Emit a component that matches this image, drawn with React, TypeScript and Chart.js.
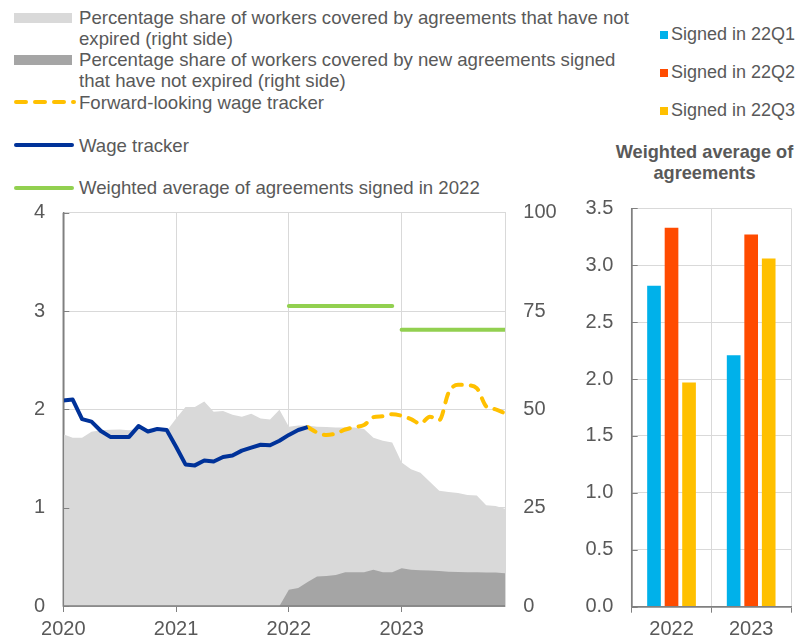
import { useEffect, useRef } from 'react';
import { Chart, registerables } from 'chart.js';

Chart.register(...registerables);

const N = null;

// ---------- Left chart data (monthly, Jan 2020 = month 0) ----------
const xTickMonths = [0, 12, 24, 36];
const xTickLabels = ['2020', '2021', '2022', '2023'];

const wageTracker = [
  2.09, 2.10, 1.90, 1.875, 1.78, 1.72, 1.72, 1.72, 1.83, 1.775, 1.80, 1.79,
  1.62, 1.44, 1.43, 1.48, 1.47, 1.515, 1.53, 1.58, 1.61, 1.64, 1.635, 1.68,
  1.74, 1.79, 1.82, N, N, N, N, N, N, N, N, N,
  N, N, N, N, N, N, N, N, N, N, N, N,
];

const forwardTracker = [
  N, N, N, N, N, N, N, N, N, N, N, N,
  N, N, N, N, N, N, N, N, N, N, N, N,
  N, N, 1.82, 1.765, 1.74, 1.755, 1.795, 1.82, 1.84, 1.92, 1.93, 1.95,
  1.935, 1.90, 1.855, 1.925, 1.89, 2.17, 2.25, 2.245, 2.215, 2.03, 2.0, 1.96,
];

const weightedAvg2022 = [
  N, N, N, N, N, N, N, N, N, N, N, N,
  N, N, N, N, N, N, N, N, N, N, N, N,
  3.05, 3.05, 3.05, 3.05, 3.05, 3.05, 3.05, 3.05, 3.05, 3.05, 3.05, 3.05,
  N, N, N, N, N, N, N, N, N, N, N, N,
];

const weightedAvg2023 = [
  N, N, N, N, N, N, N, N, N, N, N, N,
  N, N, N, N, N, N, N, N, N, N, N, N,
  N, N, N, N, N, N, N, N, N, N, N, N,
  2.81, 2.81, 2.81, 2.81, 2.81, 2.81, 2.81, 2.81, 2.81, 2.81, 2.81, 2.81,
];

const shareNotExpired = [
  43.7, 42.8, 42.8, 44.3, 44.7, 44.8, 44.9, 44.7, 45.2, 44.2, 44.3, 44.5,
  47.7, 50.6, 50.6, 52.0, 49.4, 49.6, 48.6, 48.1, 48.9, 47.7, 47.4, 49.9,
  45.6, 45.9, 45.9, 45.6, 45.5, 45.4, 45.4, 45.4, 45.0, 42.8, 42.0, 41.6,
  36.5, 34.8, 33.9, 31.6, 29.3, 29.0, 28.7, 28.2, 28.1, 25.6, 25.4, 24.7,
];

const shareNewNotExpired = [
  0, 0, 0, 0, 0, 0, 0, 0, 0, 0, 0, 0,
  0, 0, 0, 0, 0, 0, 0, 0, 0, 0, 0, 0,
  4.1, 4.6, 6.1, 7.5, 7.6, 7.9, 8.6, 8.6, 8.6, 9.2, 8.6, 8.6,
  9.6, 9.2, 9.1, 9.0, 8.9, 8.7, 8.65, 8.55, 8.55, 8.5, 8.5, 8.3,
];

const leftLegendLabels = [
  'Percentage share of workers covered by agreements that have not\nexpired (right side)',
  'Percentage share of workers covered by new agreements signed\nthat have not expired (right side)',
  'Forward-looking wage tracker',
  'Wage tracker',
  'Weighted average of agreements signed in 2022',
];

// ---------- Right chart data ----------
const barCategories = ['2022', '2023'];
const signed22Q1 = [2.82, 2.21];
const signed22Q2 = [3.33, 3.27];
const signed22Q3 = [1.97, 3.06];
const barSeriesLabels = ['Signed in 22Q1', 'Signed in 22Q2', 'Signed in 22Q3'];
const barTitle = 'Weighted average of\nagreements';

// ---------- styles ----------
const FONT = 'Arial, "Liberation Sans", sans-serif';
const TEXT = '#595959';
const GRID = '#d9d9d9';
const AXIS = '#808080';
const C_LIGHT = '#d9d9d9';
const C_DARK = '#a5a5a5';
const C_BLUE = '#003299';
const C_YELLOW = '#FFC000';
const C_GREEN = '#92D050';
const C_Q1 = '#00B1EA';
const C_Q2 = '#FF4B00';
const C_Q3 = '#FFC000';

const toXY = (arr: (number | null)[]) => arr.map((v, i) => ({ x: i, y: v }));

const fixWidth = (w: number) => (s: any) => {
  s.width = w;
  s.paddingTop = 0;
  s.paddingBottom = 0;
};

const axisOverlay = {
  id: 'axisOverlay',
  afterDatasetsDraw(chart: any) {
    const { ctx, chartArea: a, scales } = chart;
    const y = scales.y;
    ctx.save();
    ctx.strokeStyle = AXIS;
    ctx.lineWidth = 1.5;
    ctx.beginPath();
    ctx.moveTo(a.left, a.top);
    ctx.lineTo(a.left, a.bottom);
    ctx.lineTo(a.right, a.bottom);
    ctx.stroke();
    ctx.lineWidth = 1;
    y.ticks.forEach((t: any) => {
      const py = Math.round(y.getPixelForValue(t.value)) + 0.5;
      ctx.beginPath();
      ctx.moveTo(a.left, py);
      ctx.lineTo(a.left + 6, py);
      ctx.stroke();
    });
    ctx.restore();
  },
};

export default function App() {
  const lineRef = useRef<HTMLCanvasElement>(null);
  const barRef = useRef<HTMLCanvasElement>(null);

  useEffect(() => {
    const tickFont = { family: FONT, size: 20 };

    const lineChart = new Chart(lineRef.current as HTMLCanvasElement, {
      type: 'line',
      data: {
        datasets: [
          {
            label: 'Wage tracker',
            data: toXY(wageTracker),
            borderColor: C_BLUE,
            borderWidth: 4,
            pointRadius: 0,
            borderJoinStyle: 'round',
            yAxisID: 'y',
            order: 0,
          },
          {
            label: 'Forward-looking wage tracker',
            data: toXY(forwardTracker),
            borderColor: C_YELLOW,
            borderWidth: 4,
            borderDash: [9, 9],
            borderCapStyle: 'round',
            cubicInterpolationMode: 'monotone',
            pointRadius: 0,
            yAxisID: 'y',
            order: 1,
          },
          {
            label: 'Weighted average of agreements signed in 2022',
            data: toXY(weightedAvg2022),
            borderColor: C_GREEN,
            borderWidth: 4,
            borderCapStyle: 'round',
            pointRadius: 0,
            yAxisID: 'y',
            order: 2,
          },
          {
            label: 'Weighted average of agreements signed in 2022 (2023)',
            data: toXY(weightedAvg2023),
            borderColor: C_GREEN,
            borderWidth: 4,
            borderCapStyle: 'round',
            pointRadius: 0,
            yAxisID: 'y',
            order: 2,
          },
          {
            label: 'Percentage share of workers covered by new agreements signed that have not expired (right side)',
            data: toXY(shareNewNotExpired),
            borderWidth: 0,
            borderColor: 'rgba(0,0,0,0)',
            backgroundColor: C_DARK,
            fill: 'origin',
            pointRadius: 0,
            yAxisID: 'y1',
            order: 3,
          },
          {
            label: 'Percentage share of workers covered by agreements that have not expired (right side)',
            data: toXY(shareNotExpired),
            borderWidth: 0,
            borderColor: 'rgba(0,0,0,0)',
            backgroundColor: C_LIGHT,
            fill: 'origin',
            pointRadius: 0,
            yAxisID: 'y1',
            order: 4,
          },
        ] as any,
      },
      options: {
        responsive: false,
        animation: false,
        events: [],
        layout: { padding: { top: 17.7, left: 0, right: 0, bottom: 0 } },
        plugins: { legend: { display: false }, tooltip: { enabled: false } },
        scales: {
          x: {
            type: 'linear',
            min: 0,
            max: 47,
            afterBuildTicks: (s: any) => {
              s.ticks = xTickMonths.map((v) => ({ value: v }));
            },
            afterFit: (s: any) => {
              s.height = 33;
            },
            ticks: {
              font: tickFont,
              color: TEXT,
              padding: 5,
              maxRotation: 0,
              autoSkip: false,
              callback: (v: any) => xTickLabels[xTickMonths.indexOf(Number(v))] ?? '',
            },
            grid: { color: GRID, drawTicks: true, tickLength: 6, tickColor: AXIS },
            border: { color: AXIS, width: 1.5 },
          },
          y: {
            position: 'left',
            min: 0,
            max: 4,
            afterFit: fixWidth(63.3),
            ticks: { stepSize: 1, font: tickFont, color: TEXT, padding: 18.3 },
            grid: { color: GRID, drawTicks: false },
            border: { color: AXIS, width: 1.5 },
          },
          y1: {
            position: 'right',
            min: 0,
            max: 100,
            afterFit: fixWidth(55),
            ticks: { stepSize: 25, font: tickFont, color: TEXT, padding: 18.3 },
            grid: { display: false, drawTicks: false },
            border: { color: GRID, width: 1 },
          },
        },
      } as any,
      plugins: [axisOverlay],
    });

    const barChart = new Chart(barRef.current as HTMLCanvasElement, {
      type: 'bar',
      data: {
        labels: barCategories,
        datasets: [
          { label: barSeriesLabels[0], data: signed22Q1, backgroundColor: C_Q1 },
          { label: barSeriesLabels[1], data: signed22Q2, backgroundColor: C_Q2 },
          { label: barSeriesLabels[2], data: signed22Q3, backgroundColor: C_Q3 },
        ],
      },
      options: {
        responsive: false,
        animation: false,
        events: [],
        layout: { padding: { top: 13.3, right: 7, left: 0, bottom: 0 } },
        datasets: { bar: { categoryPercentage: 0.66, barPercentage: 0.78 } },
        plugins: { legend: { display: false }, tooltip: { enabled: false } },
        scales: {
          x: {
            afterFit: (s: any) => {
              s.height = 32.3;
            },
            ticks: { font: tickFont, color: TEXT, padding: 5, maxRotation: 0 },
            grid: { color: GRID, offset: true, drawTicks: true, tickLength: 6, tickColor: AXIS },
            border: { color: AXIS, width: 1.5 },
          },
          y: {
            min: 0,
            max: 3.5,
            afterFit: fixWidth(71.7),
            ticks: {
              stepSize: 0.5,
              font: tickFont,
              color: TEXT,
              padding: 18.4,
              callback: (v: any) => Number(v).toFixed(1),
            },
            grid: { color: GRID, drawTicks: false },
            border: { color: AXIS, width: 1.5 },
          },
        },
      } as any,
      plugins: [axisOverlay],
    });

    return () => {
      lineChart.destroy();
      barChart.destroy();
    };
  }, []);

  const LH = 21;
  const FS = 18.6;
  const leftRowCenters = [17.5, 59.5, 102, 145, 187.5];
  const leftKinds = ['box', 'box', 'dash', 'line', 'line'];
  const leftColors = [C_LIGHT, C_DARK, C_YELLOW, C_BLUE, C_GREEN];
  const rightRowCenters = [34.5, 72.5, 110.5];
  const rightColors = [C_Q1, C_Q2, C_Q3];

  return (
    <div
      style={{
        position: 'absolute',
        left: 0,
        top: 0,
        width: 798,
        height: 639,
        background: '#fff',
        overflow: 'hidden',
        fontFamily: FONT,
        color: TEXT,
      }}
    >
      {leftLegendLabels.map((label, i) => {
        const cy = leftRowCenters[i];
        const kind = leftKinds[i];
        return (
          <div key={'l' + i}>
            {kind === 'box' ? (
              <div
                style={{
                  position: 'absolute',
                  left: 14,
                  top: cy - 5,
                  width: 58,
                  height: 10,
                  background: leftColors[i],
                }}
              />
            ) : (
              <svg
                width={64}
                height={10}
                style={{ position: 'absolute', left: 12, top: cy - 5 }}
              >
                <line
                  x1={4}
                  y1={5}
                  x2={kind === 'dash' ? 62 : 60}
                  y2={5}
                  stroke={leftColors[i]}
                  strokeWidth={4}
                  strokeLinecap="round"
                  strokeDasharray={kind === 'dash' ? '10 9' : undefined}
                />
              </svg>
            )}
            <div
              style={{
                position: 'absolute',
                left: 79,
                top: cy - LH / 2,
                fontSize: FS,
                lineHeight: LH + 'px',
                whiteSpace: 'pre',
              }}
            >
              {label}
            </div>
          </div>
        );
      })}

      {barSeriesLabels.map((label, i) => (
        <div key={'r' + i}>
          <div
            style={{
              position: 'absolute',
              left: 660,
              top: rightRowCenters[i] - 4,
              width: 8,
              height: 8,
              background: rightColors[i],
            }}
          />
          <div
            style={{
              position: 'absolute',
              left: 671,
              top: rightRowCenters[i] - LH / 2,
              fontSize: 18,
              lineHeight: LH + 'px',
              whiteSpace: 'pre',
            }}
          >
            {label}
          </div>
        </div>
      ))}

      <div
        style={{
          position: 'absolute',
          left: 604,
          width: 201,
          top: 152 - 10.5,
          fontSize: 18.2,
          lineHeight: '21px',
          fontWeight: 'bold',
          textAlign: 'center',
          whiteSpace: 'pre',
        }}
      >
        {barTitle}
      </div>

      <canvas
        ref={lineRef}
        width={560}
        height={444}
        style={{ position: 'absolute', left: 0, top: 195, width: 560, height: 444 }}
      />
      <canvas
        ref={barRef}
        width={238}
        height={444}
        style={{ position: 'absolute', left: 560, top: 195, width: 238, height: 444 }}
      />
    </div>
  );
}
